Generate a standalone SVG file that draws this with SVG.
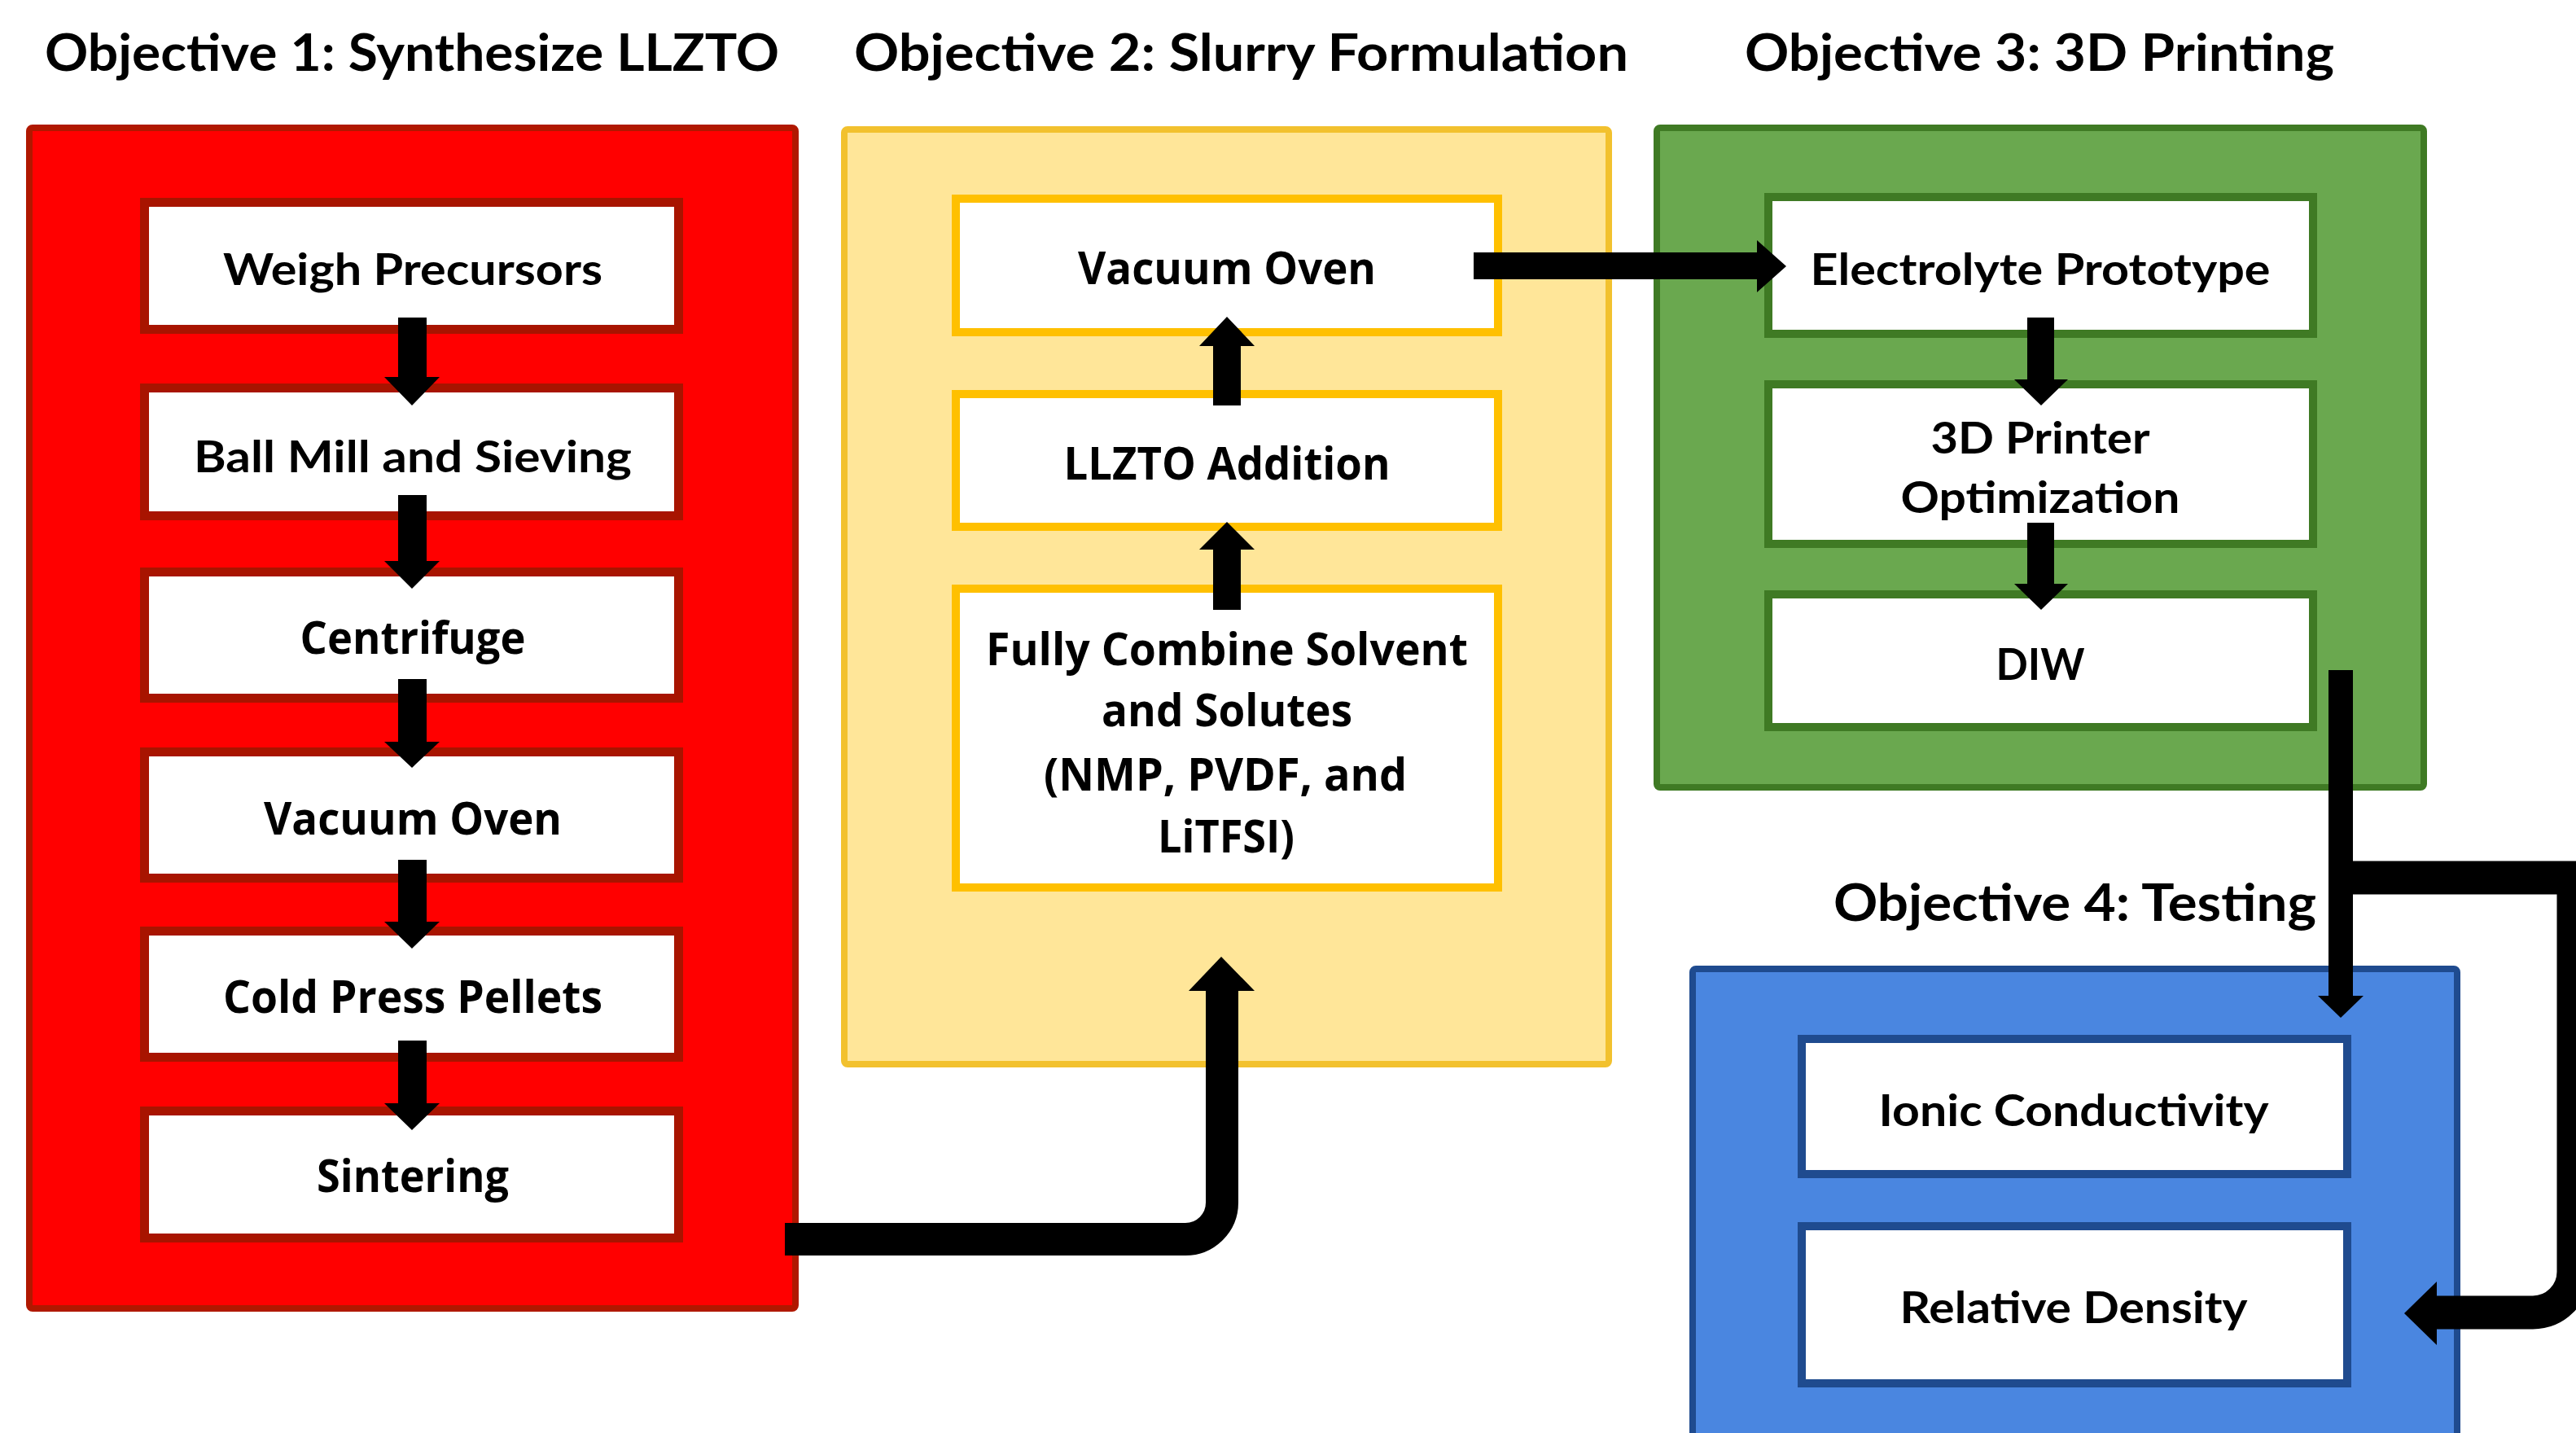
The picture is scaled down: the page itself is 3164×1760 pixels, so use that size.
<svg xmlns="http://www.w3.org/2000/svg" width="3164" height="1760" viewBox="0 0 3164 1760">
<style>
.t{font-family:Lato,"Liberation Sans",sans-serif;font-weight:bold;fill:#000;}
.c{font-family:"Open Sans","Liberation Sans",sans-serif;font-weight:bold;fill:#000;}
.title{font-size:63px;}
.lbl{font-size:54px;text-anchor:middle;}
.lbl2{font-size:55px;text-anchor:middle;}
.ored{fill:#FF0000;stroke:#B01800;stroke-width:8;}
.oyel{fill:#FFE699;stroke:#F2C12E;stroke-width:8;}
.ogrn{fill:#6AA84F;stroke:#3F7A24;stroke-width:8;}
.oblu{fill:#4A86E0;stroke:#1F4B8F;stroke-width:8;}
.ired{fill:#FFFFFF;stroke:#A81400;stroke-width:11;}
.iyel{fill:#FFFFFF;stroke:#FFC000;stroke-width:10;}
.igrn{fill:#FFFFFF;stroke:#3F7A24;stroke-width:10;}
.iblu{fill:#FFFFFF;stroke:#1F4B8F;stroke-width:10;}
.line{fill:none;stroke:#000;stroke-linejoin:miter;stroke-linecap:butt;}
.head{fill:#000;}
</style>
<rect width="3164" height="1760" fill="#FFFFFF"/>

<g id="titles">
<text class="t title" x="55" y="87" textLength="902" lengthAdjust="spacingAndGlyphs">Objective 1: Synthesize LLZTO</text>
<text class="t title" x="1049" y="87" textLength="951" lengthAdjust="spacingAndGlyphs">Objective 2: Slurry Formulation</text>
<text class="t title" x="2143" y="87" textLength="724" lengthAdjust="spacingAndGlyphs">Objective 3: 3D Printing</text>
<text class="t title" x="2252" y="1131" textLength="593" lengthAdjust="spacingAndGlyphs">Objective 4: Testing</text>
</g>

<g id="objective1">
<rect class="ored" x="36" y="157" width="941" height="1450" rx="4"/>
<g id="weigh-precursors"><rect class="ired" x="177.5" y="248.5" width="656" height="156"/>
<text class="t lbl" x="507" y="350" textLength="466" lengthAdjust="spacingAndGlyphs">Weigh Precursors</text></g>
<g id="ball-mill"><rect class="ired" x="177.5" y="476.5" width="656" height="157"/>
<text class="t lbl" x="507" y="580" textLength="538" lengthAdjust="spacingAndGlyphs">Ball Mill and Sieving</text></g>
<g id="centrifuge"><rect class="ired" x="177.5" y="702.5" width="656" height="155"/>
<text class="c lbl2" x="507" y="803" textLength="277" lengthAdjust="spacingAndGlyphs">Centrifuge</text></g>
<g id="vacuum-oven-1"><rect class="ired" x="177.5" y="923.5" width="656" height="155"/>
<text class="c lbl2" x="507" y="1025" textLength="366" lengthAdjust="spacingAndGlyphs">Vacuum Oven</text></g>
<g id="cold-press"><rect class="ired" x="177.5" y="1143.5" width="656" height="155"/>
<text class="c lbl2" x="507" y="1244" textLength="466" lengthAdjust="spacingAndGlyphs">Cold Press Pellets</text></g>
<g id="sintering"><rect class="ired" x="177.5" y="1364.5" width="656" height="156"/>
<text class="c lbl2" x="507" y="1464" textLength="236" lengthAdjust="spacingAndGlyphs">Sintering</text></g>
</g>

<g id="objective2">
<rect class="oyel" x="1037" y="159" width="939" height="1148" rx="4"/>
<g id="vacuum-oven-2"><rect class="iyel" x="1174" y="244" width="666" height="164"/>
<text class="c lbl2" x="1507" y="349" textLength="366" lengthAdjust="spacingAndGlyphs">Vacuum Oven</text></g>
<g id="llzto-addition"><rect class="iyel" x="1174" y="484" width="666" height="163"/>
<text class="c lbl2" x="1507" y="589" textLength="401" lengthAdjust="spacingAndGlyphs">LLZTO Addition</text></g>
<g id="fully-combine"><rect class="iyel" x="1174" y="723" width="666" height="367"/>
<text class="c lbl2" x="1507" y="817" textLength="592" lengthAdjust="spacingAndGlyphs">Fully Combine Solvent</text>
<text class="c lbl2" x="1507" y="892" textLength="308" lengthAdjust="spacingAndGlyphs">and Solutes</text>
<text class="c lbl2" x="1505" y="971" textLength="446" lengthAdjust="spacingAndGlyphs">(NMP, PVDF, and</text>
<text class="c lbl2" x="1506" y="1047" textLength="168" lengthAdjust="spacingAndGlyphs">LiTFSI)</text></g>
</g>

<g id="objective3">
<rect class="ogrn" x="2035" y="157" width="942" height="810" rx="4"/>
<g id="electrolyte-prototype"><rect class="igrn" x="2172" y="242" width="669" height="168"/>
<text class="t lbl" x="2506" y="350" textLength="565" lengthAdjust="spacingAndGlyphs">Electrolyte Prototype</text></g>
<g id="printer-optimization"><rect class="igrn" x="2172" y="472" width="669" height="196"/>
<text class="t lbl" x="2506" y="557" textLength="269" lengthAdjust="spacingAndGlyphs">3D Printer</text>
<text class="t lbl" x="2506" y="630" textLength="343" lengthAdjust="spacingAndGlyphs">Optimization</text></g>
<g id="diw"><rect class="igrn" x="2172" y="730" width="669" height="163"/>
<text class="t lbl" x="2506" y="835" textLength="109" lengthAdjust="spacingAndGlyphs">DIW</text></g>
</g>

<g id="objective4">
<rect class="oblu" x="2079" y="1190" width="939" height="620" rx="4"/>
<g id="ionic-conductivity"><rect class="iblu" x="2213" y="1276" width="670" height="166"/>
<text class="t lbl" x="2547" y="1383" textLength="479" lengthAdjust="spacingAndGlyphs">Ionic Conductivity</text></g>
<g id="relative-density"><rect class="iblu" x="2213" y="1506" width="670" height="193"/>
<text class="t lbl" x="2547" y="1625" textLength="427" lengthAdjust="spacingAndGlyphs">Relative Density</text></g>
</g>

<g id="connectors">
<polygon class="head" points="489,390 524,390 524,463 540,463 506,498 472,463 489,463"/>
<polygon class="head" points="489,608 524,608 524,689 540,689 506,723 472,689 489,689"/>
<polygon class="head" points="489,834 524,834 524,911 540,911 506,943 472,911 489,911"/>
<polygon class="head" points="489,1056 524,1056 524,1132 540,1132 506,1165 472,1132 489,1132"/>
<polygon class="head" points="489,1278 524,1278 524,1355 540,1355 506,1388 472,1355 489,1355"/>
<polygon class="head" points="1490,498 1524,498 1524,425 1541,425 1507,389 1473,425 1490,425"/>
<polygon class="head" points="1490,749 1524,749 1524,675 1541,675 1507,641 1473,675 1490,675"/>
<polygon class="head" points="2490,390 2523,390 2523,466 2540,466 2507,498 2474,466 2490,466"/>
<polygon class="head" points="2490,642 2523,642 2523,717 2540,717 2507,749 2474,717 2490,717"/>
<polygon class="head" points="1810,310 2158,310 2158,295 2194,327 2158,359 2158,343 1810,343"/>
<path class="line" stroke-width="40" d="M964 1522 H1456 A45 45 0 0 0 1501 1477 V1214"/>
<polygon class="head" points="1460,1217 1541,1217 1500,1175"/>
<path class="line" stroke-width="30" d="M2875 823 V1225"/>
<polygon class="head" points="2847,1223 2903,1223 2875,1250"/>
<path class="line" stroke-width="41" d="M2875 1078 H3161 V1562 A50 50 0 0 1 3111 1612 H2990"/>
<polygon class="head" points="2993,1574 2993,1652 2953,1613"/>
</g>
</svg>
